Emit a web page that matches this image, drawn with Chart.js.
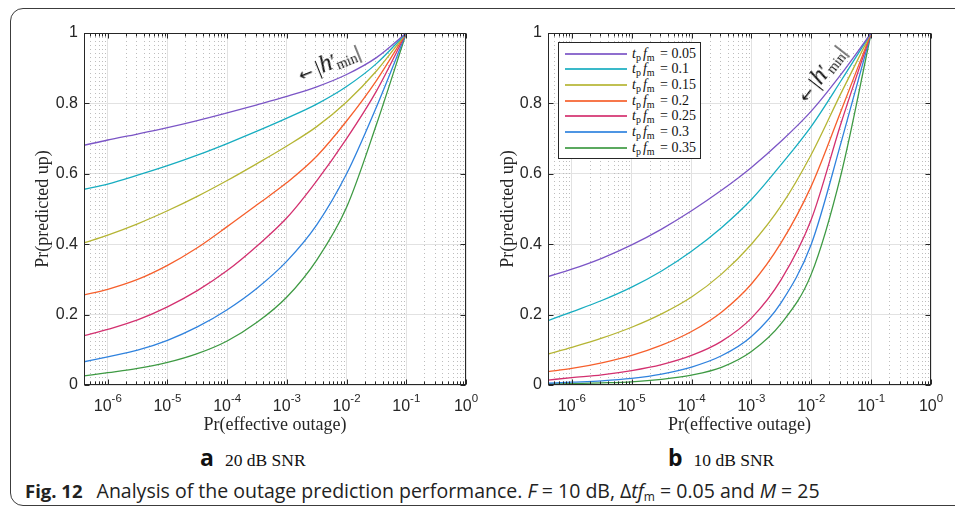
<!DOCTYPE html>
<html>
<head>
<meta charset="utf-8">
<script src="https://cdn.jsdelivr.net/npm/chart.js@4.4.1/dist/chart.umd.min.js"></script>
<style>
  body { margin: 0; width: 955px; height: 511px; overflow: hidden; position: relative; background: #fff; }
  #frame { position: absolute; left: 10px; top: 8px; width: 990px; height: 496px; border: 1.5px solid #3c3c3c; border-radius: 13px; }
  canvas { position: absolute; top: 0; }
  #cA { left: 0; }
  #cB { left: 480px; }
  #legend { position: absolute; left: 558px; top: 42px; width: 141px; height: 112px; padding-top: 3px;
            border: 1px solid #262626; background: #fff; font-family: "Liberation Serif", serif; font-size: 14px; color: #111; }
  #legend .row { height: 15.65px; display: flex; align-items: center; }
  #legend .ln { width: 62px; height: 2px; margin-left: 6px; margin-right: 5px; opacity: 0.85; }
  #legend sub { font-size: 10px; font-style: normal; vertical-align: -3px; line-height: 0; margin-right: 2px; }
  .note { position: absolute; font-family: "Liberation Serif", serif; font-size: 22px; color: #111; white-space: nowrap; transform-origin: center center; }
  .note .arr { font-family: "DejaVu Sans", sans-serif; font-size: 17px; margin-right: 4px; }
  .note i { font-size: 25px; }
  .note sub { font-size: 14px; vertical-align: -3px; line-height: 0; margin-left: -1px; }
  .sub { position: absolute; top: 441px; white-space: nowrap; color: #111; }
  .sub b { font-family: "Open Sans", sans-serif; font-size: 23px; font-weight: 700; }
  .sub span { font-family: "Liberation Serif", serif; font-size: 17.5px; margin-left: 11px; }
  #caption { position: absolute; left: 25px; top: 477px; font-family: "Open Sans", sans-serif; font-size: 19.5px; color: #222; white-space: nowrap; }
  #caption b { font-size: 18.5px; font-weight: 700; margin-right: 9px; }
  #caption sub { font-size: 12px; vertical-align: -3px; line-height: 0; }
</style>
</head>
<body>
<div id="frame"></div>
<canvas id="cA" width="480" height="440"></canvas>
<canvas id="cB" width="475" height="440"></canvas>
<div id="legend"></div>
<div class="note" id="noteA"><span class="arr">&larr;</span>|<i>h</i>&prime;<sub>min</sub>|</div>
<div class="note" id="noteB"><span class="arr">&larr;</span>|<i>h</i>&prime;<sub>min</sub>|</div>
<div class="sub" style="left:200px"><b>a</b><span>20 dB SNR</span></div>
<div class="sub" style="left:668px"><b>b</b><span>10 dB SNR</span></div>
<div id="caption"><b>Fig. 12</b> Analysis of the outage prediction performance. <i>F</i> = 10 dB, &Delta;<i>tf</i><sub>m</sub> = 0.05 and <i>M</i> = 25</div>
<script>
var xValues = [4e-7, 1e-6, 3.16e-6, 1e-5, 3.16e-5, 1e-4, 3.16e-4, 1e-3, 3.16e-3, 1e-2, 3.16e-2, 1e-1];
var tfValues = ['0.05', '0.1', '0.15', '0.2', '0.25', '0.3', '0.35'];
var colors = ['#7b55c6', '#17adc0', '#b5b534', '#f65f2c', '#d3306f', '#2f82de', '#3e9a43'];

// panel a, 20 dB SNR
var snr20_005 = [0.681, 0.696, 0.713, 0.731, 0.751, 0.773, 0.796, 0.820, 0.847, 0.882, 0.930, 1];
var snr20_010 = [0.556, 0.571, 0.596, 0.623, 0.653, 0.686, 0.721, 0.758, 0.798, 0.848, 0.913, 1];
var snr20_015 = [0.404, 0.426, 0.458, 0.495, 0.536, 0.581, 0.629, 0.679, 0.734, 0.804, 0.892, 1];
var snr20_020 = [0.256, 0.272, 0.300, 0.340, 0.390, 0.450, 0.512, 0.575, 0.650, 0.750, 0.865, 1];
var snr20_025 = [0.140, 0.158, 0.185, 0.222, 0.268, 0.325, 0.395, 0.475, 0.580, 0.700, 0.835, 1];
var snr20_030 = [0.066, 0.080, 0.099, 0.127, 0.165, 0.214, 0.275, 0.352, 0.455, 0.600, 0.790, 1];
var snr20_035 = [0.026, 0.035, 0.047, 0.064, 0.089, 0.125, 0.178, 0.250, 0.355, 0.505, 0.740, 1];

// panel b, 10 dB SNR
var snr10_005 = [0.308, 0.329, 0.360, 0.398, 0.443, 0.495, 0.553, 0.618, 0.693, 0.778, 0.883, 1];
var snr10_010 = [0.183, 0.208, 0.240, 0.278, 0.324, 0.380, 0.447, 0.527, 0.627, 0.735, 0.865, 1];
var snr10_015 = [0.088, 0.107, 0.133, 0.164, 0.202, 0.250, 0.315, 0.400, 0.510, 0.655, 0.830, 1];
var snr10_020 = [0.038, 0.047, 0.063, 0.084, 0.113, 0.152, 0.207, 0.287, 0.405, 0.565, 0.780, 1];
var snr10_025 = [0.014, 0.021, 0.029, 0.041, 0.058, 0.084, 0.124, 0.190, 0.300, 0.470, 0.745, 1];
var snr10_030 = [0.005, 0.008, 0.012, 0.019, 0.031, 0.051, 0.083, 0.138, 0.235, 0.400, 0.690, 1];
var snr10_035 = [0.003, 0.004, 0.006, 0.009, 0.016, 0.028, 0.050, 0.095, 0.175, 0.315, 0.600, 1];

var yTicks = [0, 0.2, 0.4, 0.6, 0.8, 1];
var yTickLabels = ['0', '0.2', '0.4', '0.6', '0.8', '1'];
var xDecades = [1e-6, 1e-5, 1e-4, 1e-3, 1e-2, 1e-1, 1];
var xTickExps = ['-6', '-5', '-4', '-3', '-2', '-1', '0'];
var xMin = 4e-7, xMax = 1;

var minorX = [];
for (var e = -7; e < 0; e++) {
    for (var m = 2; m <= 9; m++) {
        var v = m * Math.pow(10, e);
        if (v > xMin && v < xMax) minorX.push(v);
    }
}

var boxPlugin = {
    id: 'box',
    beforeDatasetsDraw: function (chart) {
        var ctx = chart.ctx, a = chart.chartArea, x = chart.scales.x;
        ctx.save();
        ctx.beginPath();
        ctx.rect(a.left, a.top, a.right - a.left, a.bottom - a.top);
        ctx.clip();
        ctx.strokeStyle = '#bdbdbd';
        ctx.lineWidth = 1;
        ctx.setLineDash([1, 3]);
        minorX.forEach(function (v) {
            var px = Math.round(x.getPixelForValue(v)) + 0.5;
            ctx.beginPath();
            ctx.moveTo(px, a.top);
            ctx.lineTo(px, a.bottom);
            ctx.stroke();
        });
        ctx.restore();
    },
    afterDatasetsDraw: function (chart) {
        var ctx = chart.ctx, a = chart.chartArea, x = chart.scales.x, y = chart.scales.y;
        ctx.save();
        ctx.strokeStyle = '#262626';
        ctx.lineWidth = 1;
        var l = Math.round(a.left) + 0.5, r = Math.round(a.right) - 0.5;
        var t = Math.round(a.top) + 0.5, b = Math.round(a.bottom) - 0.5;
        ctx.strokeRect(l, t, r - l, b - t);
        ctx.beginPath();
        xDecades.forEach(function (v) {
            var px = Math.round(x.getPixelForValue(v)) + 0.5;
            ctx.moveTo(px, b); ctx.lineTo(px, b - 5);
            ctx.moveTo(px, t); ctx.lineTo(px, t + 5);
        });
        minorX.forEach(function (v) {
            var px = Math.round(x.getPixelForValue(v)) + 0.5;
            ctx.moveTo(px, b); ctx.lineTo(px, b - 3);
            ctx.moveTo(px, t); ctx.lineTo(px, t + 3);
        });
        yTicks.forEach(function (v) {
            var py = Math.round(y.getPixelForValue(v)) + 0.5;
            ctx.moveTo(l, py); ctx.lineTo(l + 5, py);
            ctx.moveTo(r, py); ctx.lineTo(r - 5, py);
        });
        ctx.stroke();
        ctx.restore();
    },
    afterDraw: function (chart) {
        var ctx = chart.ctx, x = chart.scales.x;
        var big = '16px "Liberation Sans", Arial, sans-serif';
        var small = '11.5px "Liberation Sans", Arial, sans-serif';
        ctx.save();
        ctx.fillStyle = '#262626';
        ctx.textBaseline = 'alphabetic';
        ctx.textAlign = 'left';
        xDecades.forEach(function (v, i) {
            var px = x.getPixelForValue(v);
            ctx.font = big;
            var w1 = ctx.measureText('10').width;
            ctx.font = small;
            var w2 = ctx.measureText(xTickExps[i]).width;
            var x0 = px - (w1 + w2) / 2;
            ctx.font = big;
            ctx.fillText('10', x0, 411);
            ctx.font = small;
            ctx.fillText(xTickExps[i], x0 + w1, 402);
        });
        ctx.restore();
    }
};

function makeDatasets(series) {
    return series.map(function (vals, i) {
        return {
            label: 't_p f_m = ' + tfValues[i],
            data: vals.map(function (v, k) { return { x: xValues[k], y: v }; }),
            borderColor: colors[i],
            borderWidth: 1.3,
            pointRadius: 0,
            fill: false,
            cubicInterpolationMode: 'monotone'
        };
    });
}

function makeChart(id, series, yAxisWidth, rightPad, yTitlePad) {
    return new Chart(document.getElementById(id).getContext('2d'), {
        type: 'line',
        data: { datasets: makeDatasets(series) },
        plugins: [boxPlugin],
        options: {
            responsive: false,
            animation: false,
            events: [],
            layout: { padding: { left: 0, right: rightPad, top: 33, bottom: 0 } },
            plugins: { legend: { display: false }, tooltip: { enabled: false } },
            scales: {
                x: {
                    type: 'logarithmic',
                    min: xMin,
                    max: xMax,
                    afterBuildTicks: function (scale) {
                        scale.ticks = xDecades.map(function (v) { return { value: v, major: true }; });
                    },
                    afterFit: function (scale) { scale.height = 55; },
                    ticks: { display: false },
                    grid: { color: '#e2e2e2', lineWidth: 1, drawTicks: false },
                    border: { display: false },
                    title: {
                        display: true,
                        text: 'Pr(effective outage)',
                        color: '#262626',
                        font: { family: '"Liberation Serif", serif', size: 18 },
                        padding: { top: 0, bottom: 4 }
                    }
                },
                y: {
                    min: 0,
                    max: 1,
                    afterBuildTicks: function (scale) {
                        scale.ticks = yTicks.map(function (v) { return { value: v }; });
                    },
                    afterFit: function (scale) { scale.width = yAxisWidth; },
                    ticks: {
                        padding: 6,
                        color: '#262626',
                        font: { family: '"Liberation Sans", Arial, sans-serif', size: 16 },
                        callback: function (value, index) { return yTickLabels[index]; }
                    },
                    grid: { color: '#e2e2e2', lineWidth: 1, drawTicks: false },
                    border: { display: false },
                    title: {
                        display: true,
                        text: 'Pr(predicted up)',
                        color: '#262626',
                        font: { family: '"Liberation Serif", serif', size: 18 },
                        padding: { top: yTitlePad, bottom: 0 }
                    }
                }
            }
        }
    });
}

var chartA = makeChart('cA', [snr20_005, snr20_010, snr20_015, snr20_020, snr20_025, snr20_030, snr20_035], 84, 14, 32);
var chartB = makeChart('cB', [snr10_005, snr10_010, snr10_015, snr10_020, snr10_025, snr10_030, snr10_035], 68, 24, 17);

// legend of panel b, built from the chart's datasets
var legend = document.getElementById('legend');
chartB.data.datasets.forEach(function (ds, i) {
    var row = document.createElement('div');
    row.className = 'row';
    row.innerHTML = '<span class="ln" style="background:' + ds.borderColor + '"></span>' +
        '<span><i>t</i><sub>p</sub><i>f</i><sub>m</sub> = ' + tfValues[i] + '</span>';
    legend.appendChild(row);
});

function placeNote(id, cx, cy, deg) {
    var el = document.getElementById(id);
    var w = el.offsetWidth, h = el.offsetHeight;
    el.style.left = (cx - w / 2) + 'px';
    el.style.top = (cy - h / 2) + 'px';
    el.style.transform = 'rotate(' + deg + 'deg)';
}
placeNote('noteA', 328, 62, -22);
placeNote('noteB', 820, 73, -52);
</script>
</body>
</html>
